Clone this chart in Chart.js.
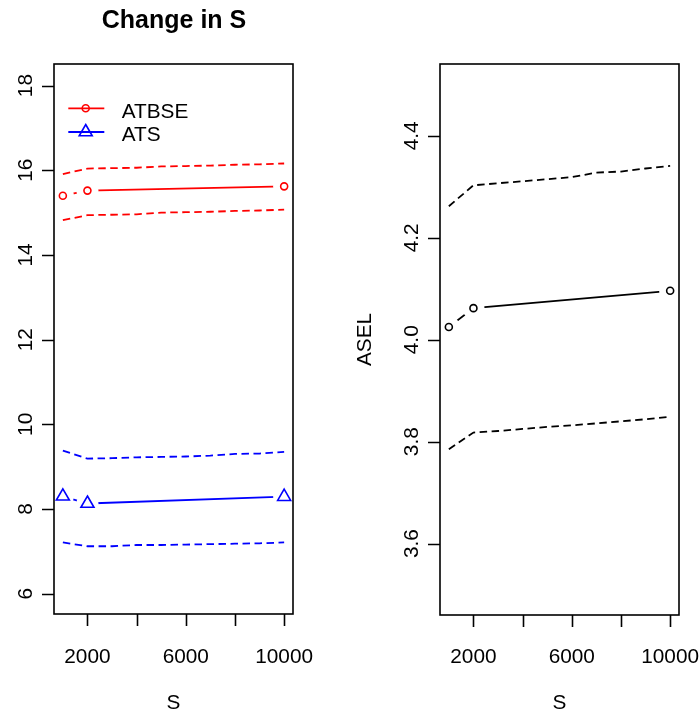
<!DOCTYPE html>
<html>
<head>
<meta charset="utf-8">
<script src="https://cdn.jsdelivr.net/npm/chart.js@4/dist/chart.umd.min.js"></script>
<style>
  html, body { margin: 0; padding: 0; background: #ffffff; }
  #wrap { position: relative; width: 699px; height: 713px; overflow: hidden; background: #fff; }
  canvas { position: absolute; top: 0; }
</style>
</head>
<body>
<div id="wrap">
  <canvas id="left" width="350" height="713" style="left:0px"></canvas>
  <canvas id="right" width="349" height="713" style="left:350px"></canvas>
</div>
<script>
// ---- data ----
const pointS = [1000, 2000, 10000];
const boundS = [1000, 2000, 3000, 4000, 5000, 6000, 7000, 8000, 9000, 10000];

const atbse      = [15.40, 15.52, 15.62];
const atbseUpper = [15.91, 16.04, 16.05, 16.06, 16.09, 16.10, 16.11, 16.13, 16.14, 16.16];
const atbseLower = [14.82, 14.94, 14.95, 14.96, 15.00, 15.01, 15.02, 15.04, 15.05, 15.07];

const ats      = [8.30, 8.13, 8.29];
const atsUpper = [9.38, 9.19, 9.20, 9.22, 9.23, 9.24, 9.26, 9.30, 9.31, 9.35];
const atsLower = [7.21, 7.12, 7.12, 7.15, 7.15, 7.16, 7.17, 7.18, 7.19, 7.21];

const asel      = [4.025, 4.062, 4.096];
const aselUpper = [4.262, 4.303, 4.307, 4.311, 4.315, 4.319, 4.328, 4.330, 4.336, 4.341];
const aselLower = [3.785, 3.818, 3.821, 3.825, 3.829, 3.832, 3.836, 3.840, 3.844, 3.849];

const xTicks = [2000, 4000, 6000, 8000, 10000];
const xTickLabels = ['2000', '', '6000', '', '10000'];
const leftYTicks = [6, 8, 10, 12, 14, 16, 18];
const leftYTickLabels = ['6', '8', '10', '12', '14', '16', '18'];
const rightYTicks = [3.6, 3.8, 4.0, 4.2, 4.4];
const rightYTickLabels = ['3.6', '3.8', '4.0', '4.2', '4.4'];

const titleText = 'Change in S';
const xTitle = 'S';
const rightYTitle = 'ASEL';
const legendLabels = ['ATBSE', 'ATS'];

// ---- helpers ----
const FONT = '"Liberation Sans", Arial, Helvetica, sans-serif';
const BASE = 20.8;
const LW = 1.8;
const pts = (xs, ys) => xs.map((x, i) => ({ x: x, y: ys[i] }));

function solidSeries(xs, ys, color, style, radius) {
  return [
    { data: pts(xs, ys), borderColor: color, borderWidth: LW, pointRadius: 0, showLine: true, tension: 0, order: 3 },
    { data: pts(xs, ys), showLine: false, pointRadius: 11, pointBorderWidth: 0, pointBackgroundColor: '#ffffff', pointBorderColor: '#ffffff', pointHoverRadius: 11, order: 2 },
    { data: pts(xs, ys), showLine: false, pointStyle: style, pointRadius: radius, pointBorderWidth: 1.6, pointBorderColor: color, pointBackgroundColor: 'rgba(0,0,0,0)', order: 1 }
  ];
}
function dashedSeries(xs, ys, color) {
  return { data: pts(xs, ys), borderColor: color, borderWidth: LW, borderDash: [7.5, 4.5], pointRadius: 0, showLine: true, tension: 0, order: 4 };
}

function drawMarker(ctx, style, r, x, y) {
  ctx.beginPath();
  if (style === 'triangle') {
    ctx.moveTo(x, y - r);
    ctx.lineTo(x + r * Math.cos(Math.PI / 6), y + r / 2);
    ctx.lineTo(x - r * Math.cos(Math.PI / 6), y + r / 2);
    ctx.closePath();
  } else {
    ctx.arc(x, y, r, 0, Math.PI * 2);
  }
  ctx.stroke();
}

const rAxes = {
  id: 'rAxes',
  afterDraw(chart, args, o) {
    const ctx = chart.ctx;
    const ca = chart.chartArea;
    const xs = chart.scales.x, ys = chart.scales.y;
    ctx.save();
    ctx.strokeStyle = '#000';
    ctx.fillStyle = '#000';
    ctx.lineWidth = 1.6;
    // box
    ctx.strokeRect(ca.left, ca.top, ca.right - ca.left, ca.bottom - ca.top);
    // x ticks
    ctx.beginPath();
    o.xTicks.forEach(v => {
      const px = Math.round(xs.getPixelForValue(v)) + 0.5;
      ctx.moveTo(px, ca.bottom); ctx.lineTo(px, ca.bottom + 12);
    });
    ctx.stroke();
    ctx.font = BASE + 'px ' + FONT;
    ctx.textAlign = 'center';
    ctx.textBaseline = 'alphabetic';
    o.xTicks.forEach((v, i) => {
      if (o.xTickLabels[i]) ctx.fillText(o.xTickLabels[i], xs.getPixelForValue(v), 663);
    });
    ctx.fillText(o.xTitle, (ca.left + ca.right) / 2, 709);
    // y ticks
    ctx.beginPath();
    o.yTicks.forEach(v => {
      const py = Math.round(ys.getPixelForValue(v)) + 0.5;
      ctx.moveTo(ca.left, py); ctx.lineTo(ca.left - 12, py);
    });
    ctx.stroke();
    o.yTicks.forEach((v, i) => {
      ctx.save();
      ctx.translate(ca.left - 22.5, ys.getPixelForValue(v));
      ctx.rotate(-Math.PI / 2);
      ctx.fillText(o.yTickLabels[i], 0, 0);
      ctx.restore();
    });
    if (o.yTitle) {
      ctx.save();
      ctx.translate(o.yTitleX, (ca.top + ca.bottom) / 2);
      ctx.rotate(-Math.PI / 2);
      ctx.fillText(o.yTitle, 0, 0);
      ctx.restore();
    }
    if (o.title) {
      ctx.font = 'bold 25px ' + FONT;
      ctx.fillText(o.title, 174, 27.5);
    }
    if (o.legend) {
      const ds = chart.data.datasets;
      o.legend.forEach(item => {
        const d = ds[item.ds];
        const ly = item.y;
        ctx.strokeStyle = d.pointBorderColor;
        ctx.lineWidth = LW;
        ctx.beginPath();
        ctx.moveTo(68.3, ly); ctx.lineTo(104.3, ly);
        ctx.stroke();
        ctx.lineWidth = 1.6;
        drawMarker(ctx, d.pointStyle, d.pointRadius, 85.7, ly);
        ctx.fillStyle = '#000';
        ctx.font = BASE + 'px ' + FONT;
        ctx.textAlign = 'left';
        ctx.fillText(item.text, 121.7, item.base);
        ctx.textAlign = 'center';
      });
    }
    ctx.restore();
  }
};

function makeChart(id, datasets, padding, yMin, yMax, opts) {
  return new Chart(document.getElementById(id), {
    type: 'line',
    data: { datasets: datasets },
    options: {
      responsive: false,
      animation: false,
      devicePixelRatio: 1,
      layout: { padding: padding },
      events: [],
      scales: {
        x: { type: 'linear', min: 640, max: 10360, display: false },
        y: { type: 'linear', min: yMin, max: yMax, display: false }
      },
      plugins: { legend: { display: false }, tooltip: { enabled: false }, rAxes: opts }
    },
    plugins: [rAxes]
  });
}

const red = '#ff0000', blue = '#0000ff', black = '#000000';

const leftSets = [
  ...solidSeries(pointS, atbse, red, 'circle', 3.5),
  dashedSeries(boundS, atbseUpper, red),
  dashedSeries(boundS, atbseLower, red),
  ...solidSeries(pointS, ats, blue, 'triangle', 7.5),
  dashedSeries(boundS, atsUpper, blue),
  dashedSeries(boundS, atsLower, blue)
];
makeChart('left', leftSets, { left: 54, top: 64, right: 57, bottom: 99 }, 5.52, 18.51, {
  xTicks: xTicks, xTickLabels: xTickLabels, xTitle: xTitle,
  yTicks: leftYTicks, yTickLabels: leftYTickLabels,
  title: titleText,
  legend: [
    { ds: 2, text: legendLabels[0], y: 108.3, base: 118.3 },
    { ds: 7, text: legendLabels[1], y: 132.0, base: 141.0 }
  ]
});

const rightSets = [
  ...solidSeries(pointS, asel, black, 'circle', 3.5),
  dashedSeries(boundS, aselUpper, black),
  dashedSeries(boundS, aselLower, black)
];
makeChart('right', rightSets, { left: 90, top: 64, right: 20, bottom: 98 }, 3.46, 4.541, {
  xTicks: xTicks, xTickLabels: xTickLabels, xTitle: xTitle,
  yTicks: rightYTicks, yTickLabels: rightYTickLabels,
  yTitle: rightYTitle, yTitleX: 20.7
});
</script>
</body>
</html>
